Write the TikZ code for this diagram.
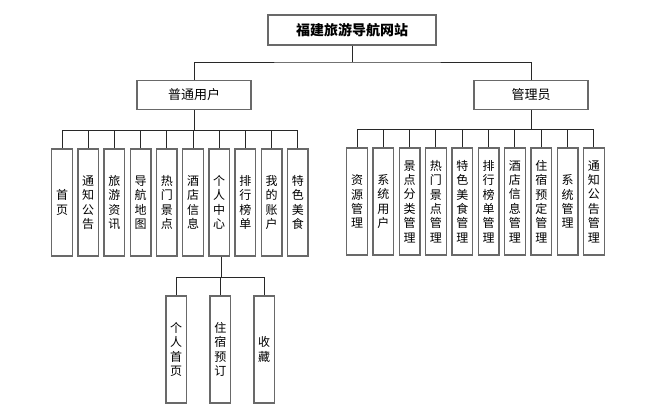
\documentclass[tikz,border=0pt]{standalone}
\usepackage{fontspec}
\setmainfont{Noto Sans CJK SC}
\newfontfamily\cjk{Noto Sans CJK SC}
\begin{document}
\begin{tikzpicture}[x=1pt,y=-1pt,
  box/.style={draw={rgb,255:red,105;green,105;blue,105},line width=1.4pt,fill=white,inner sep=0pt,align=center},
  leaf/.style={box,minimum width=20.5pt,minimum height=107pt,font=\cjk\fontsize{12}{14.4}\selectfont},
  mid/.style={box,minimum width=114pt,minimum height=29pt,font=\cjk\fontsize{13}{15}\selectfont},
  conn/.style={draw={rgb,255:red,40;green,40;blue,40},line width=1pt}]
\useasboundingbox (0,0) rectangle (664,416);
\node[box,minimum width=168pt,minimum height=30pt,font=\cjk\fontsize{14}{16}\selectfont\bfseries] (top) at (352,30) {福建旅游导航网站};
\node[mid] (user) at (194,95) {普通用户};
\node[mid] (admin) at (531,95) {管理员};
\coordinate (tbus) at (352,62);
\coordinate (ubus) at (194,130.7);
\coordinate (abus) at (531,129.3);
\coordinate (sbus) at (221,277);
% user leaves
\foreach \i/\t in {1/{首\\页},2/{通\\知\\公\\告},3/{旅\\游\\资\\讯},4/{导\\航\\地\\图},5/{热\\门\\景\\点},6/{酒\\店\\信\\息},7/{个\\人\\中\\心},8/{排\\行\\榜\\单},9/{我\\的\\账\\户},10/{特\\色\\美\\食}}
  \node[leaf] (u\i) at ({62+26.2*(\i-1)},202.5) {\t};
% admin leaves
\foreach \i/\t in {1/{资\\源\\管\\理},2/{系\\统\\用\\户},3/{景\\点\\分\\类\\管\\理},4/{热\\门\\景\\点\\管\\理},5/{特\\色\\美\\食\\管\\理},6/{排\\行\\榜\\单\\管\\理},7/{酒\\店\\信\\息\\管\\理},8/{住\\宿\\预\\定\\管\\理},9/{系\\统\\管\\理},10/{通\\知\\公\\告\\管\\理}}
  \node[leaf] (a\i) at ({357+26.33*(\i-1)},201.5) {\t};
% sub leaves
\node[leaf] (s1) at (176.2,349.5) {个\\人\\首\\页};
\node[leaf] (s2) at (220.3,349.5) {住\\宿\\预\\订};
\node[leaf] (s3) at (264.2,349.5) {收\\藏};
% connectors
\draw[conn] (top.south) -- (tbus);
\draw[conn] (user.north) |- (tbus) -| (admin.north);
\draw[conn] (user.south) -- (ubus);
\draw[conn] (u1.north|-ubus) -- (u10.north|-ubus);
\foreach \i in {1,...,10} \draw[conn] (u\i.north|-ubus) -- (u\i.north);
\draw[conn] (admin.south) -- (abus);
\draw[conn] (a1.north|-abus) -- (a10.north|-abus);
\foreach \i in {1,...,10} \draw[conn] (a\i.north|-abus) -- (a\i.north);
\draw[conn] (u7.south-|sbus) -- (sbus);
\draw[conn] (s1.north|-sbus) -- (s3.north|-sbus);
\foreach \i in {1,2,3} \draw[conn] (s\i.north|-sbus) -- (s\i.north);
\end{tikzpicture}
\end{document}
